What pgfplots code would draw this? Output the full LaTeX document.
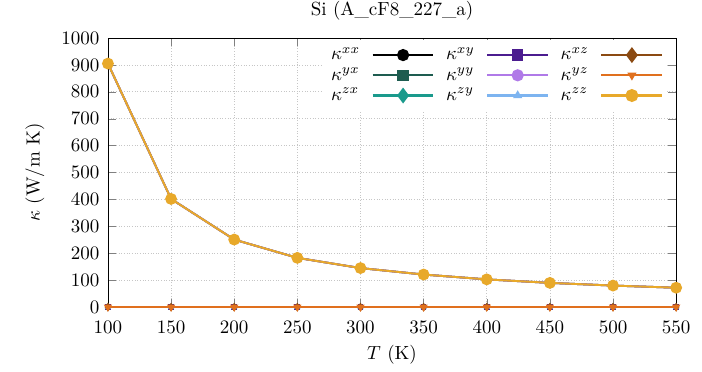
\documentclass[border=0pt]{standalone}
\usepackage{pgfplots}
\pgfplotsset{compat=1.18}
\definecolor{cxx}{HTML}{000000}
\definecolor{cxy}{HTML}{4B1C8F}
\definecolor{cxz}{HTML}{8B4A12}
\definecolor{cyx}{HTML}{1E5C50}
\definecolor{cyy}{HTML}{B07AE8}
\definecolor{cyz}{HTML}{E0701E}
\definecolor{czx}{HTML}{1A9A8C}
\definecolor{czy}{HTML}{7DB4F0}
\definecolor{czz}{HTML}{E8A92A}
\pgfplotstableread{
T diag zero
100 905 0
150 402 0
200 251 0
250 183 0
300 145 0
350 121 0
400 103 0
450 90 0
500 80 0
550 72 0
}\data
\begin{document}
\begin{tikzpicture}
\begin{axis}[
  name=ax,
  scale only axis,
  width=299pt, height=141.6pt,
  xmin=100, xmax=550, ymin=0, ymax=1000,
  xtick={100,150,...,550},
  ytick={0,100,...,1000},
  /pgf/number format/1000 sep={},
  grid=major,
  major grid style={densely dotted, gray!45},
  tick align=inside,
  title={Si (A\_cF8\_227\_a)},
  title style={inner sep=0pt, yshift=3pt},
  xlabel={$T$ (K)},
  xlabel style={yshift=1pt},
  xticklabel style={yshift=-4pt},
  yticklabel style={xshift=-1pt},
  ylabel={$\kappa$ (W/m K)},
  ylabel style={yshift=2pt},
  clip mode=individual,
  legend columns=3,
  transpose legend,
  legend plot pos=right,
  legend image code/.code={\draw[mark repeat=2,mark phase=2] plot coordinates {(0pt,0pt)(16pt,0pt)(32pt,0pt)};},
  legend style={at={(rel axis cs:0.985,0.995)}, anchor=north east, draw=none, fill=white, column sep=4pt, row sep=-1.5pt, inner sep=2pt},
  legend cell align=left,
  every axis plot/.append style={line width=1pt, mark size=2.2pt},
]
\addplot[forget plot, color=cxx, mark=*] table[x=T,y=diag]{\data};
\addplot[forget plot, color=cyx, mark=square*, mark size=1pt] table[x=T,y=zero]{\data};
\addplot[forget plot, color=czx, mark=diamond*, mark size=1pt] table[x=T,y=zero]{\data};
\addplot[forget plot, color=cxy, mark=square*, mark size=1pt] table[x=T,y=zero]{\data};
\addplot[forget plot, color=cyy, mark=*] table[x=T,y=diag]{\data};
\addplot[forget plot, color=czy, mark=triangle*, mark size=1pt] table[x=T,y=zero]{\data};
\addplot[forget plot, color=cxz, mark=diamond*, mark size=1.5pt] table[x=T,y=zero]{\data};
\addplot[forget plot, color=cyz, mark=triangle*, mark options={rotate=180}, mark size=1.5pt] table[x=T,y=zero]{\data};
\addplot[forget plot, color=czz, mark=*, mark size=2.6pt] table[x=T,y=diag]{\data};
\addlegendimage{line width=1.2pt, color=cxx, mark=*, mark size=2.6pt}
\addlegendentry{$\kappa^{xx}$}
\addlegendimage{line width=1.2pt, color=cyx, mark=square*, mark size=2.4pt}
\addlegendentry{$\kappa^{yx}$}
\addlegendimage{line width=1.2pt, color=czx, mark=diamond*, mark size=3.2pt}
\addlegendentry{$\kappa^{zx}$}
\addlegendimage{line width=1.2pt, color=cxy, mark=square*, mark size=2.4pt}
\addlegendentry{$\kappa^{xy}$}
\addlegendimage{line width=1.2pt, color=cyy, mark=*, mark size=2.6pt}
\addlegendentry{$\kappa^{yy}$}
\addlegendimage{line width=1.2pt, color=czy, mark=triangle*, mark size=1.6pt}
\addlegendentry{$\kappa^{zy}$}
\addlegendimage{line width=1.2pt, color=cxz, mark=diamond*, mark size=3.2pt}
\addlegendentry{$\kappa^{xz}$}
\addlegendimage{line width=1.2pt, color=cyz, mark=triangle*, mark options={rotate=180}, mark size=1.6pt}
\addlegendentry{$\kappa^{yz}$}
\addlegendimage{line width=1.2pt, color=czz, mark=*, mark size=2.8pt}
\addlegendentry{$\kappa^{zz}$}
\end{axis}
\path (ax.south west) ++(-56.8pt,-33.7pt) rectangle ++(369.4pt,195.3pt);
\end{tikzpicture}
\end{document}
